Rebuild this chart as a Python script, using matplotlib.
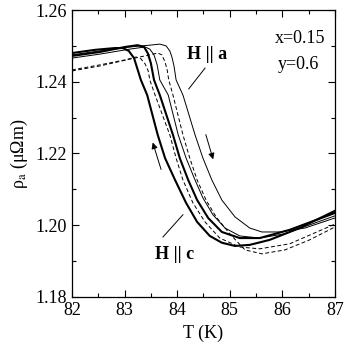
import matplotlib
matplotlib.use("Agg")
import matplotlib.pyplot as plt
from matplotlib.ticker import MultipleLocator, FormatStrFormatter

plt.rcParams['font.family'] = ['Liberation Serif', 'DejaVu Serif']
plt.rcParams['mathtext.fontset'] = 'stix'

# H || c, cooling (thick, left branch)
t_c_cool = [82.00, 82.44, 82.82, 82.97, 83.08, 83.18, 83.24, 83.31, 83.43, 83.63, 83.77,
            83.96, 84.17, 84.38, 84.62, 84.85, 85.10, 85.38, 85.76, 86.33, 87.00]
r_c_cool = [1.2480, 1.2489, 1.2494, 1.2494, 1.2486, 1.2466, 1.2438, 1.2405, 1.2363, 1.2252, 1.2187,
            1.2126, 1.2062, 1.2009, 1.1970, 1.1951, 1.1942, 1.1945, 1.1959, 1.1992, 1.2040]

# H || c, heating (thick)
t_c_heat = [82.00, 82.53, 83.01, 83.25, 83.37, 83.44, 83.50, 83.56, 83.67, 83.92, 84.05,
            84.21, 84.38, 84.59, 84.85, 85.19, 85.57, 86.14, 87.00]
r_c_heat = [1.2472, 1.2483, 1.2497, 1.2502, 1.2497, 1.2480, 1.2452, 1.2405, 1.2363, 1.2252, 1.2187,
            1.2126, 1.2070, 1.2020, 1.1981, 1.1964, 1.1964, 1.1987, 1.2034]

# H || a, cooling (thin)
t_a_cool = [82.00, 82.53, 83.10, 83.39, 83.48, 83.56, 83.62, 83.67, 83.83, 84.02, 84.17,
            84.34, 84.49, 84.68, 84.91, 85.19, 85.57, 86.05, 87.00]
r_a_cool = [1.2466, 1.2477, 1.2491, 1.2497, 1.2491, 1.2475, 1.2447, 1.2405, 1.2363, 1.2252, 1.2187,
            1.2126, 1.2076, 1.2029, 1.1992, 1.1970, 1.1964, 1.1976, 1.2026]

# H || a, heating (thin, right branch)
t_a_heat = [82.00, 82.53, 83.10, 83.48, 83.67, 83.79, 83.86, 83.90, 83.94, 83.98, 84.11,
            84.34, 84.49, 84.66, 84.85, 85.10, 85.38, 85.61, 85.95, 86.43, 87.00]
r_a_heat = [1.2475, 1.2486, 1.2497, 1.2502, 1.2505, 1.2500, 1.2486, 1.2469, 1.2444, 1.2405, 1.2363,
            1.2252, 1.2187, 1.2126, 1.2070, 1.2023, 1.1992, 1.1981, 1.1981, 1.1992, 1.2020]

# zero field, cooling (dashed)
t_0_cool = [82.00, 82.53, 83.01, 83.22, 83.31, 83.39, 83.45, 83.48, 83.58, 83.86, 83.98,
            84.11, 84.30, 84.53, 84.81, 85.19, 85.57, 86.14, 87.00]
r_0_cool = [1.2433, 1.2447, 1.2461, 1.2469, 1.2464, 1.2450, 1.2430, 1.2405, 1.2363, 1.2252, 1.2187,
            1.2126, 1.2062, 1.2009, 1.1964, 1.1939, 1.1934, 1.1948, 1.2003]

# zero field, heating (dashed)
t_0_heat = [82.00, 82.53, 83.10, 83.48, 83.63, 83.71, 83.77, 83.81, 83.84, 83.92, 84.11,
            84.24, 84.38, 84.55, 84.74, 85.00, 85.29, 85.61, 86.05, 86.52, 87.00]
r_0_heat = [1.2430, 1.2444, 1.2463, 1.2475, 1.2480, 1.2475, 1.2455, 1.2433, 1.2405, 1.2363, 1.2252,
            1.2187, 1.2126, 1.2070, 1.2023, 1.1976, 1.1931, 1.1920, 1.1931, 1.1959, 1.1995]

fig = plt.figure(figsize=(3.46, 3.46), dpi=100)
ax = fig.add_axes([0.208, 0.142, 0.760, 0.829])

ax.plot(t_c_cool, r_c_cool, color='k', lw=1.5)
ax.plot(t_c_heat, r_c_heat, color='k', lw=1.5)
ax.plot(t_a_cool, r_a_cool, color='k', lw=0.7)
ax.plot(t_a_heat, r_a_heat, color='k', lw=0.7)
ax.plot(t_0_cool, r_0_cool, color='k', lw=0.7, ls=(0, (4, 2.5)))
ax.plot(t_0_heat, r_0_heat, color='k', lw=0.7, ls=(0, (4, 2.5)))

ax.set_xlim(82, 87)
ax.set_ylim(1.18, 1.26)
ax.xaxis.set_major_locator(MultipleLocator(1))
ax.xaxis.set_minor_locator(MultipleLocator(0.5))
ax.yaxis.set_major_locator(MultipleLocator(0.02))
ax.yaxis.set_minor_locator(MultipleLocator(0.01))
ax.yaxis.set_major_formatter(FormatStrFormatter('%.2f'))
ax.tick_params(which='both', direction='in', top=True, right=True, labelsize=13)
ax.tick_params(which='major', length=5, width=0.8)
ax.tick_params(which='minor', length=3, width=0.8)
for s in ax.spines.values():
    s.set_linewidth(0.9)

ax.set_xlabel('T (K)', fontsize=13)
ax.set_ylabel(r'ρ$_{\rm a}$ (μΩm)', fontsize=13)

ax.text(85.86, 1.2522, 'x=0.15', fontsize=13, va='center')
ax.text(85.92, 1.2447, 'y=0.6', fontsize=13, va='center')
ax.text(84.19, 1.2475, 'H || a', fontsize=13, fontweight='bold', va='center')
ax.text(83.58, 1.1917, 'H || c', fontsize=13, fontweight='bold', va='center')

# pointer lines
ax.plot([84.53, 84.22], [1.2438, 1.2380], color='k', lw=0.7)
ax.plot([83.73, 84.11], [1.1967, 1.2029], color='k', lw=0.7)

# heating / cooling arrows
ax.annotate('', xy=(84.70, 1.2176), xytext=(84.53, 1.2260),
            arrowprops=dict(arrowstyle='-|>', color='k', lw=0.7, mutation_scale=9))
ax.annotate('', xy=(83.52, 1.2238), xytext=(83.71, 1.2148),
            arrowprops=dict(arrowstyle='-|>', color='k', lw=0.7, mutation_scale=9))

fig.savefig('out.png', dpi=100)
